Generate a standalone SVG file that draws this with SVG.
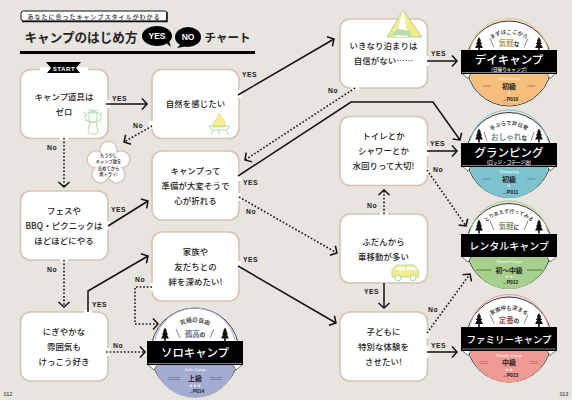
<svg xmlns="http://www.w3.org/2000/svg" xmlns:xlink="http://www.w3.org/1999/xlink" width="572" height="400" viewBox="0 0 572 400">
<style>
text{font-family:"Noto Sans CJK JP","Noto Sans",sans-serif;fill:#222;text-anchor:middle}
.n{fill:#fff;stroke:#d8c2b4;stroke-width:1.6}
.t{font-size:8.4px;font-weight:500;letter-spacing:.1px}
.l{font-family:"Liberation Sans",sans-serif;font-size:6.8px;font-weight:700;letter-spacing:.5px;text-anchor:start}
.s{fill:none;stroke:#111;stroke-width:1.5;stroke-linejoin:miter}
.d{fill:none;stroke:#111;stroke-width:1.6;stroke-dasharray:1.6 2}
.g{fill:#fff}
.bar{fill:#000}
.bl{stroke:#fff;stroke-width:.5;fill:none}
.sl{stroke:#333;stroke-width:.6;fill:none}
.fold{fill:#fff;stroke:#222;stroke-width:.6}
.bt{fill:#fff;font-weight:500}
.arc{font-size:5.4px;font-weight:500}
.big{font-size:7.6px;font-weight:700}
.sm{fill:#222;font-size:5.5px}
.lv{font-size:7px;font-weight:700}
.cp{font-family:"Liberation Serif",serif;font-style:italic;font-size:4.8px;fill:#fff}
.pg{font-family:"Liberation Sans",sans-serif;font-size:5px;font-weight:700}
.st{font-size:3.4px;fill:#fff}
.il{fill:none;stroke:#a6d8a0;stroke-width:.9}
.pn{font-family:"Liberation Sans",sans-serif;font-size:5px}
</style>
<defs>
<marker id="a" markerUnits="userSpaceOnUse" markerWidth="14" markerHeight="14" refX="10" refY="7" orient="auto" overflow="visible">
<path d="M5 1.500 10 7 5 12.500" fill="none" stroke="#111" stroke-width="1.500"/>
</marker>
<symbol id="tree" viewBox="-5 -7 10 14" width="10" height="14" overflow="visible">
<path d="M0-7 2.200-3 1.200-3 3.200 0 1.800 0 4 4 .8 4 .8 7-.8 7-.8 4-4 4-1.800 0-3.200 0-1.200-3-2.200-3Z" fill="#111"/>
</symbol>
<path id="ca" d="M-30 0A30 30 0 0 1 30 0"/>
<path id="cb" d="M-33 0A33 33 0 0 1 33 0"/>
<g id="frame">
<circle r="42.500" fill="#fff" stroke="#222" stroke-width=".9"/>
<use xlink:href="#tree" x="-35" y="-26.500"/>
<use xlink:href="#tree" x="25" y="-26.500"/>
</g>
</defs>
<rect width="572" height="400" fill="#e8e4e0"/>

<g id="header">
<rect x="21" y="11" width="146" height="10" rx="2.500" fill="#fff" stroke="#111" stroke-width="1"/>
<path d="M22 21.500H167V12" fill="none" stroke="#111" stroke-width="1.400"/>
<text x="94" y="18.500" style="font-size:6px;font-weight:500;letter-spacing:1px">あなたに合ったキャンプスタイルがわかる</text>
<text x="81" y="42" style="font-size:12.600px;font-weight:700">キャンプのはじめ方</text>
<path d="M165 42 171 47 169 41ZM181 44 177 48 187 46Z" fill="#000"/>
<ellipse cx="157" cy="36" rx="15" ry="10" fill="#000"/>
<ellipse cx="188" cy="37" rx="13" ry="10" fill="#000"/>
<text x="157" y="39" style="font-family:'Liberation Sans',sans-serif;font-size:8.500px;font-weight:700;fill:#fff">YES</text>
<text x="188" y="40" style="font-family:'Liberation Sans',sans-serif;font-size:8.500px;font-weight:700;fill:#fff">NO</text>
<text x="227.500" y="42" style="font-size:11.500px;font-weight:700">チャート</text>
<rect x="20" y="51" width="235" height="3" fill="#000"/>
</g>

<g id="node-start">
<rect class="n" x="20.500" y="69.500" width="87.500" height="69" rx="10"/>
<rect x="40" y="67" width="48" height="4" fill="#fff"/>
<path d="M46 62H81L76 68 80 73H47L51 68Z" fill="#000"/>
<text x="64" y="71" style="font-family:'Liberation Sans',sans-serif;font-size:6.200px;font-weight:700;fill:#fff;letter-spacing:.5px">START</text>
<text class="t" x="64" y="99.500">キャンプ道具は</text>
<text class="t" x="64" y="114.500">ゼロ</text>
<g class="il"><ellipse cx="93" cy="117" rx="8" ry="5.500"/><path d="M89 113H97V122H89ZM90 122 88 131 90 134H96L98 131 96 122M93 110V113M88 110H98M86 115 84 112M100 115 102 112M85 122 87 120M101 122 99 120"/></g>
</g>

<g id="node-nature">
<rect class="n" x="152" y="69.500" width="87" height="69" rx="10"/>
<text class="t" x="195.500" y="107">自然を感じたい</text>
<path d="M219 113C221 118 226 120 225 127H213C212 121 218 120 219 113Z" fill="#f5ef9a" stroke="#e6d85a" stroke-width=".8"/>
<path class="il" d="M209 126H230L227 130H212ZM213 130 211 135M226 130 229 135M219 130V135"/>
</g>

<g id="node-retry">
<path d="M100.300 152.200A8.500 8.500 0 1 1 116.700 152.200A8.500 8.500 0 1 1 121.800 167.800A8.500 8.500 0 1 1 108.500 177.500A8.500 8.500 0 1 1 95.200 167.800A8.500 8.500 0 1 1 100.300 152.200Z" fill="#fff" stroke="#d8c2b4" stroke-width="1.300"/>
<g style="font-size:4.300px;font-weight:500"><text x="108.500" y="156.500">もう少し</text><text x="108.500" y="163">キャンプ欲を</text><text x="108.500" y="169.500">高めてから</text><text x="108.500" y="176">再トライ!</text></g>
</g>

<g id="node-hard">
<rect class="n" x="152" y="151" width="87" height="69" rx="10"/>
<text class="t" x="195.500" y="173.500">キャンプって</text>
<text class="t" x="195.500" y="188.500">準備が大変そうで</text>
<text class="t" x="195.500" y="203.500">心が折れる</text>
</g>

<g id="node-fes">
<rect class="n" x="20.500" y="191" width="87.500" height="69" rx="10"/>
<text class="t" x="64" y="213.500">フェスや</text>
<text class="t" x="64" y="228.500">BBQ・ピクニックは</text>
<text class="t" x="64" y="243.500">ほどほどにやる</text>
</g>

<g id="node-family">
<rect class="n" x="152" y="232" width="87" height="69" rx="10"/>
<text class="t" x="195.500" y="254.500">家族や</text>
<text class="t" x="195.500" y="269.500">友だちとの</text>
<text class="t" x="195.500" y="284.500">絆を深めたい!</text>
</g>

<g id="node-lively">
<rect class="n" x="20.500" y="312" width="87.500" height="69" rx="10"/>
<text class="t" x="64" y="334.500">にぎやかな</text>
<text class="t" x="64" y="349.500">雰囲気も</text>
<text class="t" x="64" y="364.500">けっこう好き</text>
</g>

<g id="node-overnight">
<rect class="n" x="340" y="19" width="87.500" height="69" rx="10"/>
<path d="M403 10 387 37H422Z" fill="#f2ec8c" stroke="#a6d8a0" stroke-width="1"/>
<path d="M403 10 396 37H408Z" fill="#fff"/>
<path d="M390 35 398 29 410 31 412 36Z" fill="#b8dfa8"/>
<text class="t" x="383.500" y="49">いきなり泊まりは</text>
<text class="t" x="383.500" y="64">自信がない……</text>
</g>

<g id="node-toilet">
<rect class="n" x="340" y="116.500" width="87.500" height="69" rx="10"/>
<text class="t" x="383.500" y="139">トイレとか</text>
<text class="t" x="383.500" y="154">シャワーとか</text>
<text class="t" x="383.500" y="169">水回りって大切!</text>
</g>

<g id="node-car">
<rect class="n" x="340" y="214" width="87.500" height="69" rx="10"/>
<text class="t" x="383.500" y="244.500">ふだんから</text>
<text class="t" x="383.500" y="259.500">車移動が多い</text>
<path d="M392 277V270L396 265H414L418 270 419 277Z" fill="#f2ec8c" stroke="#a6d8a0" stroke-width=".8"/>
<path d="M396 270 398 267H405V270ZM407 267H414L416 270H407Z" fill="#fff"/>
<circle cx="398" cy="278" r="3" fill="#fff" stroke="#a6d8a0"/><circle cx="413" cy="278" r="3" fill="#fff" stroke="#a6d8a0"/>
</g>

<g id="node-kids">
<rect class="n" x="340" y="312" width="87.500" height="69" rx="10"/>
<text class="t" x="383.500" y="334.500">子どもに</text>
<text class="t" x="383.500" y="349.500">特別な体験を</text>
<text class="t" x="383.500" y="364.500">させたい!</text>
</g>

<g id="connectors">
<g class="g">
<rect x="106" y="100" width="4" height="8"/><rect x="237" y="90" width="4" height="8"/><rect x="149" y="121" width="5" height="8"/><rect x="60" y="136" width="8" height="4"/><rect x="237" y="173" width="4" height="8"/><rect x="237" y="193" width="4" height="8"/><rect x="106" y="221" width="4" height="8"/><rect x="60" y="258" width="8" height="4"/><rect x="84" y="310" width="8" height="4"/><rect x="106" y="348" width="4" height="8"/><rect x="150" y="283" width="4" height="8"/><rect x="237" y="261" width="4" height="8"/><rect x="351" y="86" width="8" height="4"/><rect x="425" y="56" width="4" height="10"/><rect x="425" y="146" width="4" height="10"/><rect x="425" y="168" width="4" height="6"/><rect x="380" y="212" width="8" height="4"/><rect x="425" y="330" width="4" height="8"/><rect x="425" y="346" width="4" height="12"/>
</g>
<path class="s" d="M106 104H147" marker-end="url(#a)"/>
<path class="d" d="M64 138V187" marker-end="url(#a)"/>
<path class="s" d="M238 95 334 39" marker-end="url(#a)"/>
<path class="d" d="M152 126 124 142" marker-end="url(#a)"/>
<path class="d" d="M355 88 245 160" marker-end="url(#a)"/>
<path class="s" d="M238 176 351 102H433L460 140" marker-end="url(#a)"/>
<path class="d" d="M239 197 337 253" marker-end="url(#a)"/>
<path class="s" d="M108 226 148 201" marker-end="url(#a)"/>
<path class="d" d="M64 260V307" marker-end="url(#a)"/>
<path class="s" d="M88 312V291L148 256" marker-end="url(#a)"/>
<path class="d" d="M106 352H145" marker-end="url(#a)"/>
<path class="d" d="M152 287H135V324H158" marker-end="url(#a)"/>
<path class="s" d="M238 266 336 323" marker-end="url(#a)"/>
<path class="s" d="M384 283V308" marker-end="url(#a)"/>
<path class="d" d="M384 214V190" marker-end="url(#a)"/>
<path class="s" d="M427 61H457" marker-end="url(#a)"/>
<path class="s" d="M427 151H457" marker-end="url(#a)"/>
<path class="d" d="M427 170 466 226" marker-end="url(#a)"/>
<path class="d" d="M427 333 470 274" marker-end="url(#a)"/>
<path class="s" d="M427 352H457" marker-end="url(#a)"/>
<text class="l" x="112" y="100.500">YES</text>
<text class="l" x="242" y="77">YES</text>
<text class="l" x="133" y="128">No</text>
<text class="l" x="47" y="150">No</text>
<text class="l" x="243" y="185">YES</text>
<text class="l" x="246" y="214">No</text>
<text class="l" x="111" y="212">YES</text>
<text class="l" x="47" y="272">No</text>
<text class="l" x="92" y="307">YES</text>
<text class="l" x="113" y="348">No</text>
<text class="l" x="135" y="282">No</text>
<text class="l" x="243" y="262">YES</text>
<text class="l" x="328" y="93">No</text>
<text class="l" x="431" y="56">YES</text>
<text class="l" x="430" y="146">YES</text>
<text class="l" x="433" y="172">No</text>
<text class="l" x="367" y="208">No</text>
<text class="l" x="364" y="294">YES</text>
<text class="l" x="428" y="312">No</text>
<text class="l" x="431" y="348">YES</text>
</g>

<g id="badge-day" transform="translate(509 63.500)">
<use xlink:href="#frame"/>
<path d="M-39-14A40 40 0 0 1 39-14" fill="none" stroke="#f6bd7b"/>
<path class="sl" d="M-19-25-15-16M19-25 15-16"/>
<path d="M-40 10H40A41 41 0 0 1-40 10Z" fill="#f6bd7b"/>
<path class="fold" d="M-47 10-41 15-38 10M47 10 41 15 38 10"/>
<rect class="bar" x="-48" y="-13.500" width="96" height="24"/>
<path class="bl" d="M-47 9H47"/>
<text class="arc"><textPath xlink:href="#ca" startOffset="50%">まずはここから</textPath></text>
<text class="big" x="0" y="-18" style="fill:#b89c6a">気軽<tspan class="sm">な</tspan></text>
<text class="bt" x="0" y="0" style="font-size:11.500px">デイキャンプ</text>
<text class="bt" x="0" y="7" style="font-size:4.600px">(日帰りキャンプ)</text>
<text class="cp" x="0" y="16">Day Camp</text>
<path d="M-26 22.500H-18M18 22.500H26" stroke="#9a8a70" stroke-width="1.200"/>
<text class="lv" x="0" y="25">初級</text>
<text class="st" x="0" y="30.500">★</text>
<text class="pg" x="1" y="37.500">→P010</text>
</g>

<g id="badge-glamping" transform="translate(509 155)">
<use xlink:href="#frame"/>
<path d="M-39-14A40 40 0 0 1 39-14" fill="none" stroke="#7cc3cd"/>
<path class="sl" d="M-25-23-22-14M25-23 22-14"/>
<path d="M-40 11H40A41 41 0 0 1-40 11Z" fill="#7cc3cd"/>
<path class="fold" d="M-47 11-41 16-38 11M47 11 41 16 38 11"/>
<rect class="bar" x="-48" y="-12" width="96" height="24"/>
<path class="bl" d="M-47 10.500H47"/>
<text class="arc"><textPath xlink:href="#ca" startOffset="50%">手ぶらで非日常</textPath></text>
<text class="big" x="0" y="-15.500" style="fill:#6d8f96">おしゃれ<tspan class="sm">な</tspan></text>
<text class="bt" x="0" y="2" style="font-size:11.500px">グランピング</text>
<text class="bt" x="0" y="9" style="font-size:4.600px">(ロッジ・コテージ泊)</text>
<text class="cp" x="0" y="17.500">Glamping</text>
<path d="M-26 24H-18M18 24H26" stroke="#5f8f96" stroke-width="1.200"/>
<text class="lv" x="0" y="26.500">初級</text>
<text class="st" x="0" y="32">★</text>
<text class="pg" x="1" y="38.500">→P011</text>
</g>

<g id="badge-rental" transform="translate(509 246)">
<use xlink:href="#frame"/>
<path d="M-39-14A40 40 0 0 1 39-14" fill="none" stroke="#a6d08b"/>
<path class="sl" d="M-19-25-15-16M19-25 15-16"/>
<path d="M-40 11H40A41 41 0 0 1-40 11Z" fill="#a6d08b"/>
<path class="fold" d="M-47 11-41 16-38 11M47 11 41 16 38 11"/>
<rect class="bar" x="-48" y="-12" width="96" height="23"/>
<text class="arc" style="font-size:5px"><textPath xlink:href="#cb" startOffset="50%">とりあえず行ってみる</textPath></text>
<text class="big" x="0" y="-17" style="fill:#7d9470">気軽<tspan class="sm">に</tspan></text>
<text class="bt" x="0" y="3.500" style="font-size:10px">レンタルキャンプ</text>
<text class="cp" x="0" y="17">Rental Camp</text>
<path d="M-33 24H-18M18 24H33" stroke="#4f6f3f" stroke-width=".9"/>
<text class="lv" x="0" y="26.500" style="font-size:6.800px">初〜中級</text>
<text class="st" x="0" y="32">★ ★</text>
<text class="pg" x="1" y="38">→P012</text>
</g>

<g id="badge-familycamp" transform="translate(509 339.500)">
<use xlink:href="#frame"/>
<path d="M-39-14A40 40 0 0 1 39-14" fill="none" stroke="#ef9a93"/>
<path class="sl" d="M-19-25-15-16M19-25 15-16"/>
<path d="M-40 11H40A41 41 0 0 1-40 11Z" fill="#ef9a93"/>
<path class="fold" d="M-47 11-41 16-38 11M47 11 41 16 38 11"/>
<rect class="bar" x="-48" y="-12.500" width="96" height="24"/>
<path class="bl" d="M-47 9.500H47"/>
<text class="arc"><textPath xlink:href="#ca" startOffset="50%">家族仲も深まる</textPath></text>
<text class="big" x="0" y="-17" style="fill:#a35a5a">定番<tspan class="sm">の</tspan></text>
<text class="bt" x="0" y="3" style="font-size:9.500px">ファミリーキャンプ</text>
<text class="cp" x="0" y="17">Family Camp</text>
<path d="M-29 22H-21M21 22H29M-29 24H-21M21 24H29" stroke="#b06c68" stroke-width=".7"/>
<text class="lv" x="0" y="25.500">中級</text>
<text class="st" x="0" y="31">★ ★</text>
<text class="pg" x="1" y="37.500">→P013</text>
</g>

<g id="badge-solo" transform="translate(195 352)">
<circle r="44" fill="#fff" stroke="#222" stroke-width=".9"/>
<path d="M-40-12A41 41 0 0 1 40-12" fill="none" stroke="#a4acd4"/>
<path d="M-41 13H41A42 42 0 0 1-41 13Z" fill="#a4acd4"/>
<use xlink:href="#tree" x="-35" y="-24.500"/>
<use xlink:href="#tree" x="25" y="-24.500"/>
<path class="sl" d="M-19-23-15-14M19-23 15-14"/>
<path class="fold" d="M-47 13-41 18-38 13M47 13 41 18 38 13"/>
<rect class="bar" x="-48" y="-11" width="96" height="24"/>
<path class="bl" d="M-47 11.500H47"/>
<text class="arc" style="font-size:5.800px"><textPath xlink:href="#ca" startOffset="50%">究極の自由</textPath></text>
<text class="big" x="0" y="-15" style="fill:#6f7590">孤高<tspan class="sm">の</tspan></text>
<text class="bt" x="0" y="5" style="font-size:11.400px">ソロキャンプ</text>
<text class="cp" x="0" y="19">Solo Camp</text>
<path d="M-27 25.500H-15M15 25.500H27M-27 27.500H-15M15 27.500H27" stroke="#6f7590" stroke-width=".7"/>
<text class="lv" x="0" y="29">上級</text>
<text class="st" x="0" y="34.500">★ ★ ★</text>
<text class="pg" x="1" y="41">→P014</text>
</g>

<g id="pages">
<text class="pn" x="8" y="396">012</text>
<text class="pn" x="564" y="396">013</text>
</g>
</svg>
